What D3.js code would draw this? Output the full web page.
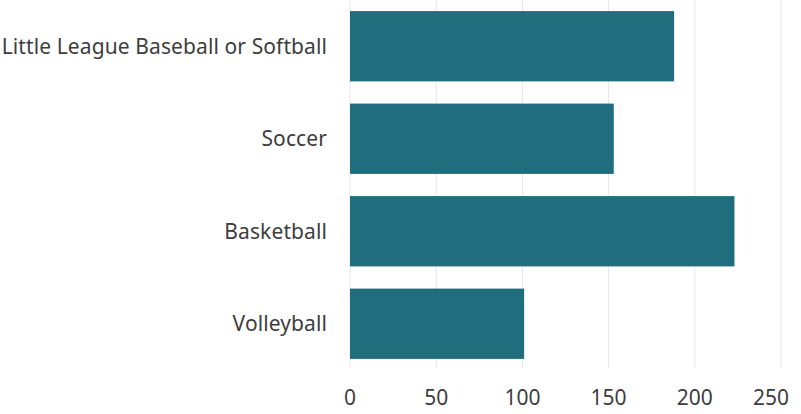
<!DOCTYPE html>
<html>
<head>
<meta charset="utf-8">
<script src="https://cdn.jsdelivr.net/npm/d3@7"></script>
<style>
  body { margin: 0; background: #fff; }
  svg text { font-family: "Noto Sans", sans-serif; fill: #3d3d3d; }
</style>
</head>
<body>
<div id="chart"></div>
<script>
// datos del grafico
const sports = ["Little League Baseball or Softball", "Soccer", "Basketball", "Volleyball"];
const counts = [188, 153, 223, 101];
const xTicks = [0, 50, 100, 150, 200, 250];

const width = 801;
const height = 414;
const margin = { top: 0, right: 20, bottom: 44, left: 350 };

const svg = d3.select("#chart")
  .append("svg")
  .attr("width", width)
  .attr("height", height);

const x = d3.scaleLinear()
  .domain([0, 250])
  .range([margin.left, 781]);

const y = d3.scaleBand()
  .domain(sports)
  .range([0, 370])
  .paddingInner(0.24)
  .paddingOuter(0.12);

// lineas de la cuadricula
svg.append("g")
  .selectAll("line")
  .data(xTicks)
  .join("line")
  .attr("x1", d => x(d))
  .attr("x2", d => x(d))
  .attr("y1", 0)
  .attr("y2", 368)
  .attr("stroke", "#e6e6e6")
  .attr("stroke-width", 1);

// barras
svg.append("g")
  .selectAll("rect")
  .data(sports)
  .join("rect")
  .attr("x", x(0))
  .attr("y", d => y(d))
  .attr("width", (d, i) => x(counts[i]) - x(0))
  .attr("height", y.bandwidth())
  .attr("fill", "#1f6d7d");

// etiquetas de categorias
svg.append("g")
  .selectAll("text")
  .data(sports)
  .join("text")
  .attr("x", 327)
  .attr("y", d => y(d) + y.bandwidth() / 2)
  .attr("dy", "0.35em")
  .attr("text-anchor", "end")
  .attr("font-size", "21px")
  .attr("letter-spacing", "0.1px")
  .text(d => d);

// etiquetas del eje x (la ultima se ajusta al borde, como en el original)
svg.append("g")
  .selectAll("text")
  .data(xTicks)
  .join("text")
  .attr("x", d => Math.min(x(d), width - 30))
  .attr("y", 398)
  .attr("dy", "0.35em")
  .attr("text-anchor", "middle")
  .attr("font-size", "21px")
  .text(d => d);
</script>
</body>
</html>
